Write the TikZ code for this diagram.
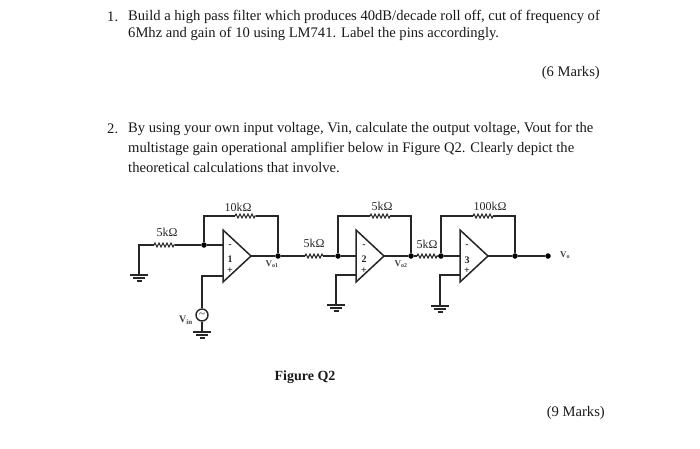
\documentclass[tikz,border=0pt]{standalone}
\usepackage{fontspec}
\setmainfont{Liberation Serif}
\usetikzlibrary{shapes.geometric,positioning,decorations.pathmorphing}

\begin{document}
\begin{tikzpicture}[
    x=1pt,y=-1pt,
    line/.style={draw,line width=1.2pt,black!85},
    question/.style={anchor=west,inner sep=0pt,font=\fontsize{14.6}{17}\selectfont,text=black!90},
    value/.style={inner sep=0pt,font=\fontsize{12}{14}\selectfont,text=black!85},
    volt/.style={inner sep=0pt,font=\fontsize{9}{10}\selectfont\bfseries,text=black!75},
    opamp/.style={draw,line width=1.5pt,black!85,isosceles triangle,isosceles triangle stretches,minimum width=52pt,minimum height=28pt,inner sep=0pt,outer sep=0pt,anchor=apex},
    sign/.style={inner sep=0pt,font=\fontsize{10}{11}\selectfont\bfseries,text=black!85},
    dot/.style={circle,fill=black,inner sep=0pt,minimum size=5.5pt},
    resistor/.style={line width=1.1pt,black!85,decorate,decoration={zigzag,amplitude=2pt,segment length=4pt}},
    gnd/.style={line width=1.3pt,black!85}
    ]
    \useasboundingbox (0,0) rectangle (700,448);

    % questions
    \node[question] (numone) at (107,17) {1.};
    \node[question] (lineone) at (128,17) {Build a high pass filter which produces 40dB/decade roll off, cut of frequency of};
    \node[question] (linetwo) at (128,34) {6Mhz and gain of 10 using LM741. Label the pins accordingly.};
    \node[question,anchor=east] (marksix) at (600,73) {(6 Marks)};
    \node[question] (numtwo) at (107,129) {2.};
    \node[question] (linethree) at (128,129) {By using your own input voltage, Vin, calculate the output voltage, Vout for the};
    \node[question] (linefour) at (128,149) {multistage gain operational amplifier below in Figure Q2. Clearly depict the};
    \node[question] (linefive) at (128,168) {theoretical calculations that involve.};
    \node[question,anchor=east] (marknine) at (605,413) {(9 Marks)};
    \node[inner sep=0pt,font=\fontsize{14}{16}\selectfont\bfseries,text=black!90] (figname) at (305,377) {Figure Q2};

    % amplifiers
    \node[opamp] (ampone) at (251,256) {};
    \node[opamp] (amptwo) at (384,256) {};
    \node[opamp] (ampthree) at (488,256) {};
    \node[sign] (numa) at (230,259) {1};
    \node[sign] (numb) at (364,259) {2};
    \node[sign] (numc) at (467,260) {3};
    \node[sign] (mina) at (230,246) {-};
    \node[sign] (minb) at (364,246) {-};
    \node[sign] (minc) at (467,246) {-};
    \node[sign] (plusa) at (230,271) {+};
    \node[sign] (plusb) at (364,271) {+};
    \node[sign] (plusc) at (467,271) {+};

    % junctions
    \node[dot] (joina) at (204,245) {};
    \node[dot] (outa) at (278,256) {};
    \node[dot] (joinb) at (338,256) {};
    \node[dot] (outb) at (411,256) {};
    \node[dot] (joinc) at (441,256) {};
    \node[dot] (outc) at (515,256) {};
    \node[dot] (vout) at (548,256) {};

    % corners and ends
    \coordinate (gndin) at (139,275);
    \coordinate (corner) at (139,245);
    \coordinate (inmin) at (223,245);
    \coordinate (inplusa) at (223,276);
    \coordinate (cornerplusa) at (202,276);
    \coordinate (gndsrc) at (202,332);
    \coordinate (inminb) at (357,256);
    \coordinate (inplusb) at (357,275);
    \coordinate (cornerplusb) at (336,275);
    \coordinate (gndb) at (336,305);
    \coordinate (inminc) at (461,256);
    \coordinate (inplusc) at (461,275);
    \coordinate (cornerplusc) at (440,275);
    \coordinate (gndc) at (440,306);
    \node[draw,circle,line width=1.4pt,black!85,minimum size=12pt,inner sep=0pt,font=\fontsize{11}{11}\selectfont] (source) at (202,315) {\textasciitilde};

    % wires
    \draw[line] (gndin) -- (corner) -- (154,245);
    \draw[resistor] (154,245) -- (175,245);
    \draw[line] (175,245) -- (joina) -- (inmin);
    \draw[line] (joina) -- (204,216) -- (235,216);
    \draw[resistor] (235,216) -- (256,216);
    \draw[line] (256,216) -- (278,216) -- (outa);
    \draw[line] (ampone.apex) -- (outa) -- (305,256);
    \draw[resistor] (305,256) -- (323,256);
    \draw[line] (323,256) -- (joinb) -- (inminb);
    \draw[line] (joinb) -- (338,216) -- (370,216);
    \draw[resistor] (370,216) -- (390,216);
    \draw[line] (390,216) -- (411,216) -- (outb);
    \draw[line] (amptwo.apex) -- (outb) -- (417,256);
    \draw[resistor] (417,256) -- (438,256);
    \draw[line] (438,256) -- (joinc) -- (inminc);
    \draw[line] (joinc) -- (441,216) -- (473,216);
    \draw[resistor] (473,216) -- (493,216);
    \draw[line] (493,216) -- (515,216) -- (outc);
    \draw[line] (ampthree.apex) -- (outc) -- (vout);
    \draw[line] (inplusa) -- (cornerplusa) -- (source);
    \draw[line] (source) -- (gndsrc);
    \draw[line] (inplusb) -- (cornerplusb) -- (gndb);
    \draw[line] (inplusc) -- (cornerplusc) -- (gndc);

    % grounds
    \foreach \g in {gndin,gndsrc,gndb,gndc}
      \draw[gnd] (\g) +(-9,0) -- +(9,0) +(-6,3) -- +(6,3) +(-2.5,6) -- +(2.5,6);

    % labels
    \node[value] (ra) at (167,232) {5kΩ};
    \node[value] (rb) at (238,207) {10kΩ};
    \node[value] (rc) at (314,243) {5kΩ};
    \node[value] (rd) at (382,206) {5kΩ};
    \node[value] (re) at (427,244) {5kΩ};
    \node[value] (rf) at (490,206) {100kΩ};
    \node[volt] (vone) at (272,264) {V\textsubscript{o1}};
    \node[volt] (vtwo) at (401,264) {V\textsubscript{o2}};
    \node[volt] (vthree) at (565,255) {V\textsubscript{o}};
    \node[volt,font=\fontsize{10}{11}\selectfont\bfseries] (vin) at (186,320) {V\textsubscript{in}};
\end{tikzpicture}
\end{document}
